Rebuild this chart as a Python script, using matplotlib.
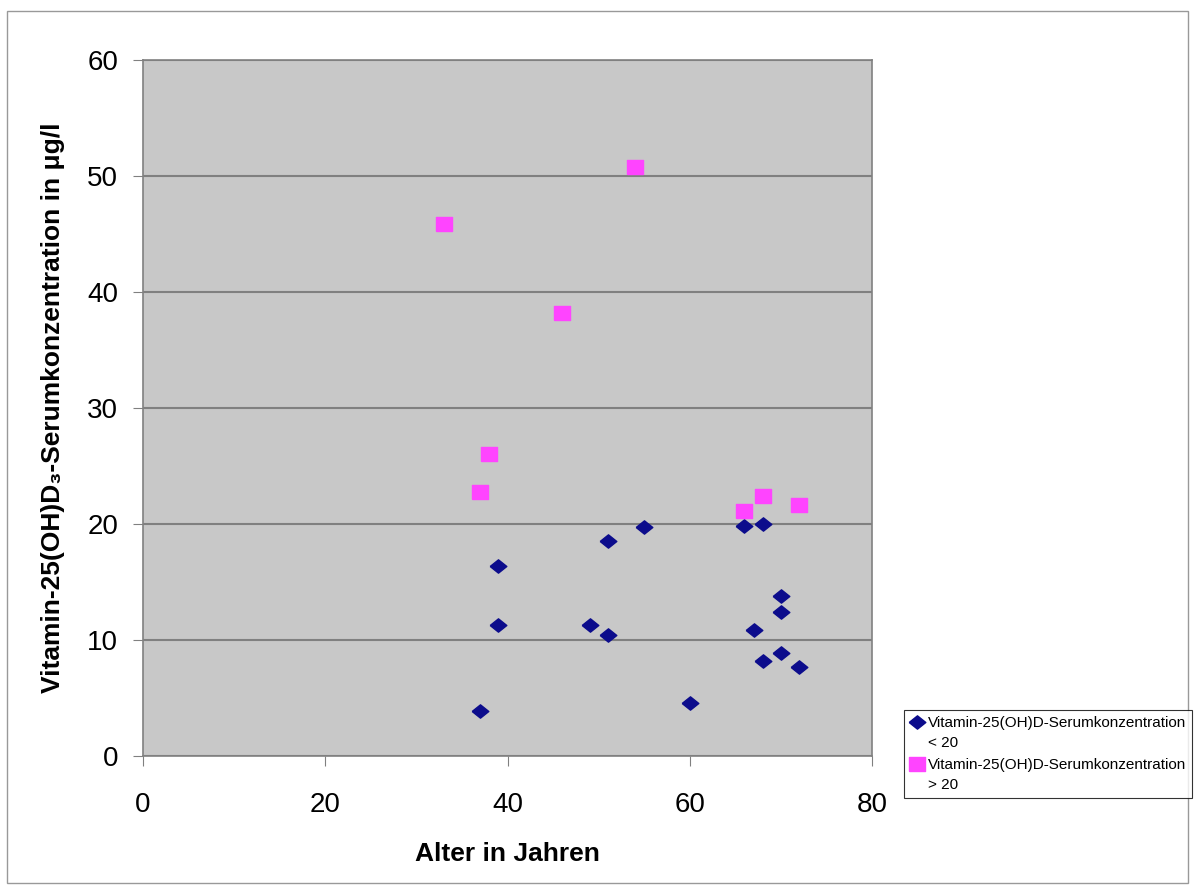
import matplotlib
matplotlib.use("Agg")
import numpy as np
import matplotlib.pyplot as plt
from matplotlib.patches import Rectangle
from matplotlib.legend_handler import HandlerLine2D

plt.rcParams['font.family'] = ['Liberation Sans', 'DejaVu Sans']

# Vitamin D < 20
age_low = [37, 39, 39, 49, 51, 51, 55, 60, 66, 68, 70, 70, 67, 68, 70, 72]
vitd_low = [3.9, 16.4, 11.3, 11.3, 18.5, 10.4, 19.7, 4.6, 19.8, 20.0, 13.8, 12.4, 10.9, 8.2, 8.9, 7.7]

# Vitamin D > 20
age_high = [33, 54, 46, 38, 37, 66, 68, 72]
vitd_high = [45.9, 50.8, 38.2, 26.0, 22.8, 21.1, 22.4, 21.6]

label_low = "Vitamin-25(OH)D-Serumkonzentration\n< 20"
label_high = "Vitamin-25(OH)D-Serumkonzentration\n> 20"


class TopHandler(HandlerLine2D):
    # put the marker next to the first text line, like the original
    def create_artists(self, legend, orig_handle, xdescent, ydescent, width, height, fontsize, trans):
        arts = super().create_artists(legend, orig_handle, xdescent, ydescent, width, height, fontsize, trans)
        for a in arts:
            a.set_ydata(np.asarray(a.get_ydata()) + 0.72 * fontsize)
        return arts


fig = plt.figure(figsize=(11.98, 8.92), dpi=100)
ax = fig.add_axes([0.1194, 0.1525, 0.6085, 0.7802])
ax.set_facecolor('#c8c8c8')

diamond = [(-1, 0), (0, 0.8), (1, 0), (0, -0.8), (-1, 0)]
square = [(-1, -0.85), (1, -0.85), (1, 0.85), (-1, 0.85), (-1, -0.85)]
l1, = ax.plot(age_low, vitd_low, linestyle='none', marker=diamond, markersize=12,
              color='#0c0c8c', label=label_low, zorder=3)
l2, = ax.plot(age_high, vitd_high, linestyle='none', marker=square, markersize=11.5,
              color='#ff44ff', label=label_high, zorder=3)

ax.set_xlim(0, 80)
ax.set_ylim(0, 60)
ax.set_xticks(range(0, 81, 20))
ax.set_yticks(range(0, 61, 10))
ax.yaxis.grid(True, color='#808080', linewidth=1.5)
ax.set_axisbelow(True)
ax.tick_params(labelsize=20, direction='out', length=7, color='#808080')
ax.tick_params(axis='x', pad=19)
ax.tick_params(axis='y', pad=11)
for s in ax.spines.values():
    s.set_color('#808080')
    s.set_linewidth(1.2)

ax.set_xlabel("Alter in Jahren", fontsize=19, fontweight='bold', labelpad=17)
ax.set_ylabel("Vitamin-25(OH)D\u2083-Serumkonzentration in \u03bcg/l", fontsize=19,
              fontweight='bold', labelpad=16)

leg = fig.legend(handles=[l1, l2], loc='upper left', bbox_to_anchor=(0.7546, 0.204),
                 fontsize=11, frameon=True, fancybox=False, edgecolor='black',
                 handlelength=0.9, handletextpad=0.25, borderpad=0.4, labelspacing=0.5,
                 borderaxespad=0, handler_map={l1: TopHandler(), l2: TopHandler()})
leg.get_frame().set_linewidth(0.8)
for t in leg.get_texts():
    t.set_linespacing(1.55)

fig.patches.append(Rectangle((0.006, 0.01), 0.986, 0.978, transform=fig.transFigure,
                             fill=False, edgecolor='#999999', linewidth=1))

fig.savefig("out.png", dpi=100)
